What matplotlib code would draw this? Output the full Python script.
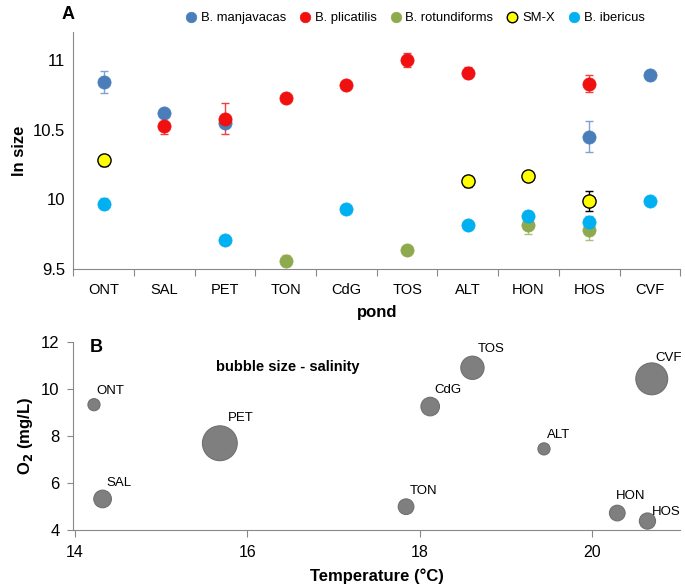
import numpy as np
import matplotlib
matplotlib.use("Agg")
import matplotlib.pyplot as plt

plt.rcParams['font.family'] = ['Liberation Sans', 'DejaVu Sans']

# ---- panel A data ----
ponds = ['ONT', 'SAL', 'PET', 'TON', 'CdG', 'TOS', 'ALT', 'HON', 'HOS', 'CVF']

manj_pond = ['ONT', 'SAL', 'PET', 'HOS', 'CVF']
manj_val = [10.84, 10.62, 10.55, 10.45, 10.89]
manj_err = [0.08, 0.02, 0.03, 0.11, 0.02]

plic_pond = ['SAL', 'PET', 'TON', 'CdG', 'TOS', 'ALT', 'HOS']
plic_val = [10.53, 10.58, 10.73, 10.82, 11.00, 10.91, 10.83]
plic_err = [0.06, 0.11, 0.02, 0.03, 0.05, 0.04, 0.06]

rot_pond = ['TON', 'TOS', 'HON', 'HOS']
rot_val = [9.56, 9.64, 9.82, 9.78]
rot_err = [0.04, 0.01, 0.07, 0.07]

smx_pond = ['ONT', 'ALT', 'HON', 'HOS']
smx_val = [10.28, 10.13, 10.17, 9.99]
smx_err = [0.04, 0.04, 0.03, 0.07]

iber_pond = ['ONT', 'PET', 'CdG', 'ALT', 'HON', 'HOS', 'CVF']
iber_val = [9.97, 9.71, 9.93, 9.82, 9.88, 9.84, 9.99]
iber_err = [0.04, 0.02, 0.03, 0.02, 0.04, 0.04, 0.02]

# ---- panel B data ----
b_names = ['ONT', 'SAL', 'PET', 'TON', 'CdG', 'TOS', 'ALT', 'HON', 'HOS', 'CVF']
temp = [14.22, 14.32, 15.68, 17.84, 18.12, 18.61, 19.44, 20.29, 20.64, 20.69]
oxy = [9.33, 5.32, 7.69, 4.99, 9.25, 10.90, 7.45, 4.72, 4.38, 10.43]
salinity = [9, 19, 74, 15, 21, 33, 9, 15, 16, 62]

fig = plt.figure(figsize=(6.85, 5.84), dpi=100)
axA = fig.add_axes([0.107, 0.539, 0.886, 0.406])
axB = fig.add_axes([0.107, 0.0925, 0.886, 0.322])

series = [
    ('B. manjavacas', manj_pond, manj_val, manj_err, '#4A7EBB', '#4A7EBB', '#7FA3D0'),
    ('B. plicatilis', plic_pond, plic_val, plic_err, '#F01010', '#F01010', '#F04040'),
    ('B. rotundiforms', rot_pond, rot_val, rot_err, '#8DAA4E', '#8DAA4E', '#A9C07A'),
    ('SM-X', smx_pond, smx_val, smx_err, '#FFFF00', '#000000', '#000000'),
    ('B. ibericus', iber_pond, iber_val, iber_err, '#00B0F0', '#00B0F0', '#40C0F0'),
]
for lab, pp, vv, ee, fc, ec, errc in series:
    xs = [ponds.index(p) for p in pp]
    axA.errorbar(xs, vv, yerr=ee, fmt='none', ecolor=errc, elinewidth=1.0,
                 capsize=3, capthick=1.0, zorder=2)
    axA.plot(xs, vv, 'o', ms=9.5, mfc=fc, mec=ec, mew=1.0 if lab == 'SM-X' else 0.5,
             label=lab, zorder=3)

axA.set_xlim(-0.5, 9.5)
axA.set_ylim(9.5, 11.2)
axA.set_yticks([9.5, 10, 10.5, 11])
axA.set_yticklabels(['9.5', '10', '10.5', '11'])
axA.set_xticks(np.arange(-0.5, 10, 1))
axA.set_xticklabels([])
axA.set_xticks(np.arange(10), minor=True)
axA.set_xticklabels(ponds, minor=True)
axA.tick_params(axis='x', which='major', direction='out', length=5, color='#888888')
axA.tick_params(axis='x', which='minor', length=0, pad=10, labelsize=10.5)
axA.tick_params(axis='y', length=0, labelsize=12, pad=6)
axA.spines['top'].set_visible(False)
axA.spines['right'].set_visible(False)
axA.spines['left'].set_color('#888888')
axA.spines['bottom'].set_color('#888888')
axA.set_xlabel('pond', fontsize=12, fontweight='bold', labelpad=6)
axA.set_ylabel('ln size', fontsize=12, fontweight='bold', labelpad=4)
axA.legend(loc='lower center', bbox_to_anchor=(0.56, 1.0), ncol=5, frameon=False,
           fontsize=9.4, handletextpad=0.05, columnspacing=0.75, markerscale=0.8,
           borderaxespad=0.2, handlelength=1.4)
fig.text(0.09, 0.975, 'A', fontsize=13, fontweight='bold', ha='left', va='center')

# panel B bubbles
sizes = [s * 8.5 for s in salinity]
axB.scatter(temp, oxy, s=sizes, c='#7F7F7F', edgecolors='#707070', linewidths=0.8, zorder=3)
for name, t, o, s in zip(b_names, temp, oxy, sizes):
    r = np.sqrt(s) / 2
    if name == 'HOS':
        off = (r * 0.6, r * 0.4)
    elif name == 'HON':
        off = (-1, r + 2)
    elif name == 'CVF':
        off = (r * 0.2, r * 0.9)
    else:
        off = (r * 0.45, r + 1)
    axB.annotate(name, (t, o), xytext=off, textcoords='offset points',
                 ha='left', va='bottom', fontsize=9.5)

axB.text(16.47, 10.95, 'bubble size - salinity', ha='center', va='center',
         fontsize=10.5, fontweight='bold')
axB.text(14.25, 11.75, 'B', ha='center', va='center', fontsize=13, fontweight='bold')
axB.set_xlim(13.98, 21.02)
axB.set_ylim(4, 12)
axB.set_xticks([14, 16, 18, 20])
axB.set_yticks([4, 6, 8, 10, 12])
axB.tick_params(axis='x', direction='out', length=5, color='#888888', labelsize=11.5, pad=6)
axB.tick_params(axis='y', direction='out', length=4, color='#888888', labelsize=12, pad=6)
axB.spines['top'].set_visible(False)
axB.spines['right'].set_visible(False)
axB.spines['left'].set_color('#888888')
axB.spines['bottom'].set_color('#888888')
axB.set_xlabel('Temperature (°C)', fontsize=12, fontweight='bold', labelpad=6)
axB.set_ylabel(r'O$_\mathbf{2}$ (mg/L)', fontsize=12, fontweight='bold', labelpad=4)

fig.savefig('out.png', dpi=100)
